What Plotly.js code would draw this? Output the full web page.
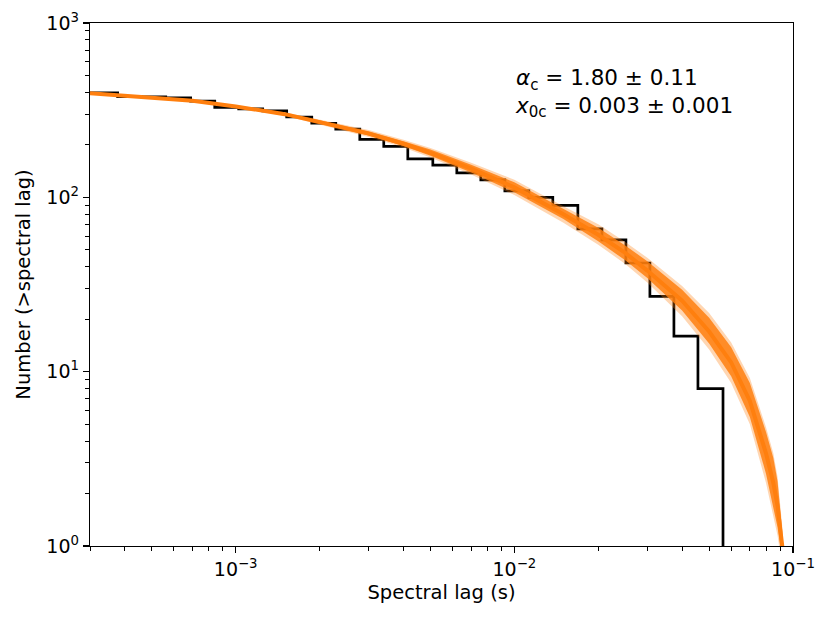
<!DOCTYPE html>
<html>
<head>
<meta charset="utf-8">
<script src="https://cdn.plot.ly/plotly-3.0.1.min.js"></script>
<style>
  html, body { margin: 0; padding: 0; background: #fff; }
  #graph { width: 831px; height: 623px; }
</style>
</head>
<body>
<div id="graph"></div>
<script>
// cumulative counts, left bin edges (s) -> N(>lag)
const binEdges = [2.5e-4, 3.77e-4, 4.60e-4, 5.61e-4, 6.89e-4, 8.41e-4, 1.025e-3, 1.25e-3,
  1.524e-3, 1.875e-3, 2.286e-3, 2.788e-3, 3.399e-3, 4.146e-3, 5.098e-3, 6.216e-3,
  7.58e-3, 9.245e-3, 1.127e-2, 1.374e-2, 1.69e-2, 2.062e-2, 2.514e-2, 3.065e-2,
  3.738e-2, 4.559e-2, 5.608e-2];
// last value is below the axis floor so the final drop runs off the plot
const binCounts = [397, 378, 377, 372, 356, 328, 322, 313, 289, 266, 246, 215, 196,
  166, 153, 138, 126, 109, 100, 90, 66, 57, 42, 27, 16, 8, 0.5];

// fitted model band
const modelLag = [3e-4, 5e-4, 7e-4, 1e-3, 1.5e-3, 2e-3, 3e-3, 4e-3, 5e-3, 7e-3, 1e-2,
  1.5e-2, 2e-2, 2.5e-2, 3e-2, 4e-2, 5e-2, 6e-2, 7e-2, 8e-2, 8.5e-2, 8.8e-2, 9e-2,
  9.15e-2, 9.25e-2];
const modelMid = [395, 375, 358, 332, 300, 270, 232, 203, 180, 146, 114, 80, 61, 48,
  38, 25.5, 17, 11.3, 6.8, 3.4, 2.3, 1.7, 1.3, 1.0, 0.7];
const outerLo = [392, 371, 353, 327, 294, 261, 222, 193, 169, 135, 103, 71.5, 53.5,
  41.5, 32.5, 20.8, 13.4, 8.6, 5.0, 2.3, 1.5, 1.15, 0.9, 0.72, 0.47];
const outerHi = [398, 379, 363, 338, 308, 280, 243, 214, 192, 158, 126, 89, 70, 55.5,
  45, 31, 21.7, 14.7, 9.2, 4.8, 3.4, 2.5, 1.8, 1.3, 0.88];
const innerLo = [393, 372, 354, 329, 296, 264, 226, 197, 173, 139, 107, 75, 56, 43.5,
  34.5, 22.4, 14.5, 9.4, 5.5, 2.6, 1.7, 1.28, 1.0, 0.79, 0.54];
const innerHi = [397, 378, 362, 336, 305, 277, 239, 210, 188, 154, 122, 86, 67, 53,
  43, 29.5, 20.4, 13.8, 8.6, 4.5, 3.2, 2.35, 1.65, 1.22, 0.83];

const xTickVals = [1e-3, 1e-2, 1e-1];
const xTickText = ['10<sup>−3</sup>', '10<sup>−2</sup>', '10<sup>−1</sup>'];
const yTickVals = [1, 10, 100, 1000];
const yTickText = ['10<sup>0</sup>', '10<sup>1</sup>', '10<sup>2</sup>', '10<sup>3</sup>'];

const fitText = ['<i>α</i><sub>c</sub> = 1.80 ± 0.11', '<i>x</i><sub>0c</sub> = 0.003 ± 0.001'];

const orange = '#ff7f0e';
const font = 'DejaVu Sans, sans-serif';

const data = [
  {
    x: binEdges, y: binCounts, type: 'scatter', mode: 'lines',
    line: {shape: 'hv', color: 'black', width: 2.7},
    hoverinfo: 'skip'
  },
  {
    x: modelLag, y: outerLo, type: 'scatter', mode: 'lines',
    line: {width: 0}, hoverinfo: 'skip'
  },
  {
    x: modelLag, y: outerHi, type: 'scatter', mode: 'lines', fill: 'tonexty',
    fillcolor: 'rgba(255,127,14,0.32)', line: {width: 0}, hoverinfo: 'skip'
  },
  {
    x: modelLag, y: innerLo, type: 'scatter', mode: 'lines',
    line: {width: 0}, hoverinfo: 'skip'
  },
  {
    x: modelLag, y: innerHi, type: 'scatter', mode: 'lines', fill: 'tonexty',
    fillcolor: 'rgba(255,127,14,0.85)', line: {width: 0}, hoverinfo: 'skip'
  },
  {
    x: modelLag, y: modelMid, type: 'scatter', mode: 'lines',
    line: {color: orange, width: 4}, hoverinfo: 'skip'
  }
];

const axisCommon = {
  type: 'log',
  showgrid: false,
  zeroline: false,
  showline: true,
  linecolor: 'black',
  linewidth: 1.2,
  mirror: true,
  ticks: 'outside',
  ticklen: 6,
  tickwidth: 1.2,
  tickcolor: 'black',
  tickfont: {family: font, size: 19, color: 'black'},
  minor: {ticks: 'outside', ticklen: 3.5, tickwidth: 1, tickcolor: 'black', dtick: 'D1', showgrid: false}
};

const layout = {
  width: 831,
  height: 623,
  margin: {l: 90, r: 38, t: 23, b: 77},
  paper_bgcolor: 'white',
  plot_bgcolor: 'white',
  showlegend: false,
  font: {family: font, color: 'black'},
  xaxis: Object.assign({}, axisCommon, {
    range: [Math.log10(3e-4), -1],
    tickvals: xTickVals, ticktext: xTickText,
    title: {text: 'Spectral lag (s)', font: {family: font, size: 19.5, color: 'black'}, standoff: 6}
  }),
  yaxis: Object.assign({}, axisCommon, {
    range: [0, 3],
    tickvals: yTickVals, ticktext: yTickText,
    title: {text: 'Number (>spectral lag)', font: {family: font, size: 19.5, color: 'black'}, standoff: 10}
  }),
  annotations: [{
    xref: 'paper', yref: 'paper', x: 0.601, y: 0.924,
    xanchor: 'left', yanchor: 'top', align: 'left', showarrow: false,
    text: fitText.join('<br>'),
    font: {family: font, size: 21.5, color: 'black'}
  }]
};

Plotly.newPlot('graph', data, layout, {displayModeBar: false, staticPlot: true});
</script>
</body>
</html>
